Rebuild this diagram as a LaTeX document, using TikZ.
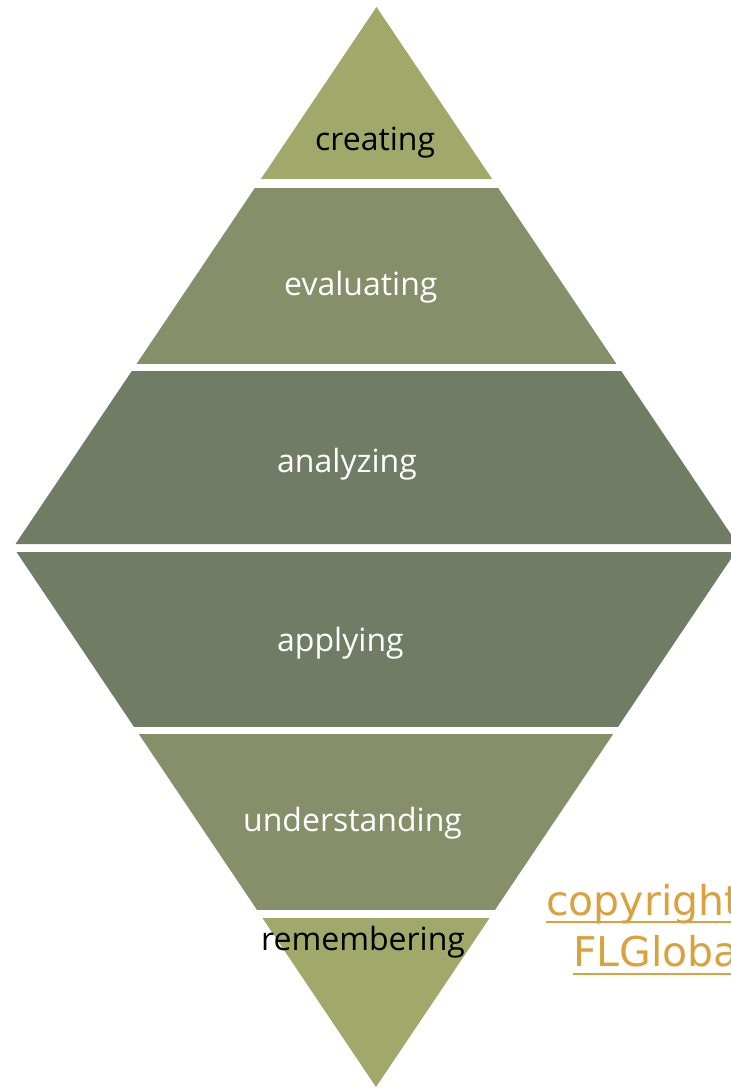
\documentclass[tikz,border=0pt]{standalone}
\usepackage{fontspec}
\setmainfont{Open Sans}
\newfontfamily\copyfont{DejaVu Sans}
\definecolor{lightolive}{HTML}{A0A86A}
\definecolor{midolive}{HTML}{858F6A}
\definecolor{darkolive}{HTML}{707C64}
\definecolor{copyorange}{HTML}{D9A23E}
\tikzset{
  label/.style={anchor=base west, inner sep=0pt, font=\fontsize{32}{36}\selectfont},
  lightlabel/.style={label, text=white},
  darklabel/.style={label, text=black},
  copylabel/.style={anchor=base west, inner sep=0pt, text=copyorange, font=\copyfont\fontsize{41}{48}\selectfont},
  uline/.style={copyorange, line width=2.5pt},
}
\begin{document}
\begin{tikzpicture}[x=1pt,y=-1pt]
\useasboundingbox (0,0) rectangle (731,1088);
\clip (0,0) rectangle (731,1088);
% upper triangle apex (376.5,7), base y=544
\def\upper{(376.5,7) -- (15.5,544) -- (737.5,544) -- cycle}
\def\lower{(376,1087) -- (16.5,552) -- (735.5,552) -- cycle}
\begin{scope}\clip (0,0) rectangle (731,178);
  \fill[lightolive] \upper; \end{scope}
\begin{scope}\clip (0,188) rectangle (731,363);
  \fill[midolive] \upper; \end{scope}
\begin{scope}\clip (0,371) rectangle (731,544);
  \fill[darkolive] \upper; \end{scope}
\begin{scope}\clip (0,552) rectangle (731,726);
  \fill[darkolive] \lower; \end{scope}
\begin{scope}\clip (0,734) rectangle (731,909);
  \fill[midolive] \lower; \end{scope}
\begin{scope}\clip (0,918) rectangle (731,1088);
  \fill[lightolive] \lower; \end{scope}
% labels
\node[darklabel] (creating) at (315,150) {creating};
\node[lightlabel] (evaluating) at (284,295) {evaluating};
\node[lightlabel] (analyzing) at (277,472) {analyzing};
\node[lightlabel] (applying) at (277,651) {applying};
\node[lightlabel] (understanding) at (243,831) {understanding};
\node[darklabel] (remembering) at (261,950) {remembering};
% copyright
\node[copylabel] (copy1) at (546,915) {copyright};
\node[copylabel] (copy2) at (573,966) {FLGlobal};
\draw[uline] (copy1.base west) ++(0,7) coordinate (u1) -- (u1 -| 731,0);
\draw[uline] (copy2.base west) ++(0,8) coordinate (u2) -- (u2 -| 731,0);
\end{tikzpicture}
\end{document}
